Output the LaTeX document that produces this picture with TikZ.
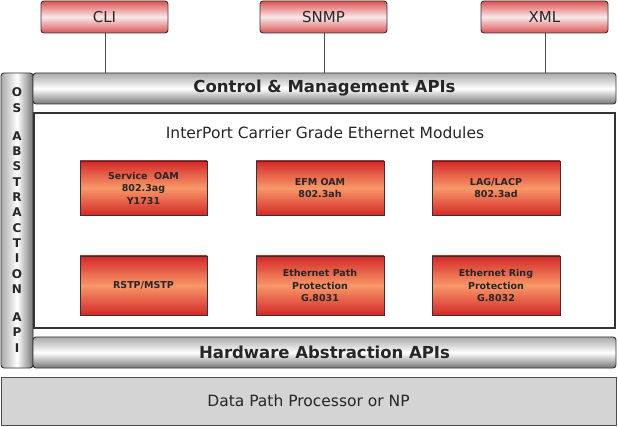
\documentclass[tikz,border=0pt]{standalone}
\usepackage{fontspec}
\setmainfont{DejaVu Sans}
\usetikzlibrary{calc}
\definecolor{rd}{HTML}{D42828}
\definecolor{rl}{HTML}{F8E8E8}
\definecolor{og}{HTML}{F89868}
\definecolor{gd}{HTML}{A8A8A8}
\definecolor{dp}{HTML}{D4D4D4}
\tikzset{
 top/.style={draw=black!80,line width=0.9pt,rounded corners=3pt,top color=rd!80,bottom color=rd!80,middle color=rl,font=\fontsize{15}{15}\selectfont,text=black!85},
 bar/.style={draw=black!80,line width=0.9pt,rounded corners=3pt,top color=gd,bottom color=gd!70!black,middle color=white},
 vbar/.style={draw=black!80,line width=0.9pt,rounded corners=3pt,left color=gd,right color=gd!70!black,middle color=white},
 mod/.style={draw=black!80,line width=0.6pt,top color=rd,bottom color=rd,middle color=og,font=\bfseries\fontsize{9.5}{12.5}\selectfont,align=center,text=black!85},
}
\begin{document}
\begin{tikzpicture}[x=1pt,y=-1pt]
\useasboundingbox (0,0) rectangle (618,427);
\draw[gray!60!black] (105,33) -- (105,73);
\draw[gray!60!black] (324,33) -- (324,73);
\draw[gray!60!black] (545,33) -- (545,73);
\foreach \n/\a/\t in {cli/41/CLI,snmp/260/SNMP,xml/481/XML}
 \path[top] (\a,1) rectangle ++(127,32) node[midway] (\n) {\t};
\path[vbar] (1,73) rectangle (33,368);
\node[font=\bfseries\fontsize{12}{15.3}\selectfont,align=center,text=black!85] (os) at (17,220) {O\\S\\[13pt]A\\B\\S\\T\\R\\A\\C\\T\\I\\O\\N\\[13pt]A\\P\\I};
\path[bar] (33,73) rectangle (616,104) node[midway,font=\bfseries\fontsize{16.5}{16}\selectfont,text=black!85] (cm) {Control \& Management APIs};
\draw[black!80,line width=1.5pt,fill=white] (34,113) rectangle (615,328);
\node[font=\fontsize{15.5}{16}\selectfont,text=black!85] (title) at (325,133) {InterPort Carrier Grade Ethernet Modules};
\path[mod] (80,161) rectangle (207,215) node[midway] (m1) {Service\ \ OAM\\802.3ag\\Y1731};
\path[mod] (256,161) rectangle (384,215) node[midway] (m2) {EFM OAM\\802.3ah};
\path[mod] (432,161) rectangle (560,215) node[midway] (m3) {LAG/LACP\\802.3ad};
\path[mod] (80,256) rectangle (207,315) node[midway] (m4) {RSTP/MSTP};
\path[mod] (256,256) rectangle (384,315) node[midway] (m5) {Ethernet Path\\Protection\\G.8031};
\path[mod] (432,256) rectangle (560,315) node[midway] (m6) {Ethernet Ring\\Protection\\G.8032};
\path[bar] (33,337) rectangle (616,368) node[midway,font=\bfseries\fontsize{16.5}{16}\selectfont,text=black!85] (hw) {Hardware Abstraction APIs};
\path[draw=black!70,line width=0.9pt,fill=dp] (1,377) rectangle (616,425) node[midway,font=\fontsize{15.5}{16}\selectfont,text=black!85] (dpp) {Data Path Processor or NP};
\end{tikzpicture}
\end{document}
